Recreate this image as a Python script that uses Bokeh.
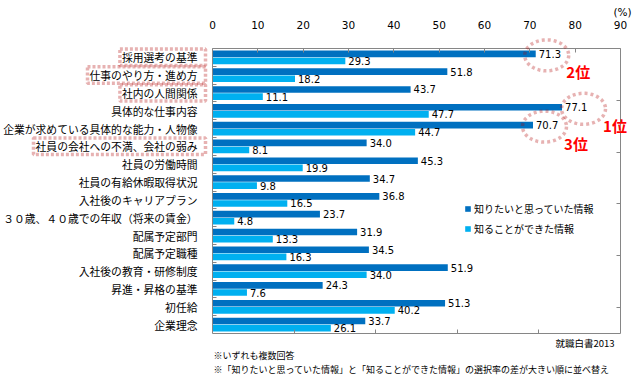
import numpy as np
from bokeh.plotting import figure
from bokeh.models import (Range1d, FixedTicker, LinearAxis, ColumnDataSource, Legend,
                          LegendItem, Label, PolyAnnotation)
from bokeh.transform import dodge
from bokeh.core.properties import value
from bokeh.embed import file_html
from bokeh.resources import INLINE

# ---------------- data ----------------
categories = [
    "採用選考の基準",
    "仕事のやり方・進め方",
    "社内の人間関係",
    "具体的な仕事内容",
    "企業が求めている具体的な能力・人物像",
    "社員の会社への不満、会社の弱み",
    "社員の労働時間",
    "社員の有給休暇取得状況",
    "入社後のキャリアプラン",
    "３０歳、４０歳での年収（将来の賃金）",
    "配属予定部門",
    "配属予定職種",
    "入社後の教育・研修制度",
    "昇進・昇格の基準",
    "初任給",
    "企業理念",
]
wanted = [71.3, 51.8, 43.7, 77.1, 70.7, 34.0, 45.3, 34.7, 36.8, 23.7, 31.9, 34.5, 51.9, 24.3, 51.3, 33.7]
known = [29.3, 18.2, 11.1, 47.7, 44.7, 8.1, 19.9, 9.8, 16.5, 4.8, 13.3, 16.3, 34.0, 7.6, 40.2, 26.1]
series_names = ["知りたいと思っていた情報", "知ることができた情報"]
x_ticks = [0, 10, 20, 30, 40, 50, 60, 70, 80, 90]
highlighted = ["採用選考の基準", "仕事のやり方・進め方", "社内の人間関係", "社員の会社への不満、会社の弱み"]
ranked = ["具体的な仕事内容", "採用選考の基準", "企業が求めている具体的な能力・人物像"]
rank_labels = ["1位", "2位", "3位"]
notes = ["※いずれも複数回答",
         "※「知りたいと思っていた情報」と「知ることができた情報」の選択率の差が大きい順に並べ替え"]
source_note = "就職白書2013"
unit_label = "(%)"

# ---------------- styles / layout ----------------
DARK = "#0070C0"
LIGHT = "#00B0F0"
RED_DOT = "#B00000"
GRID = "#868686"
JP = "Noto Sans CJK JP"
NUM = "DejaVu Sans"

W, H = 639, 383            # whole canvas is the frame
L, R, T, B = 212, 620, 48, 333   # chart box inside the canvas (px)
XMAX = 90
n = len(categories)
pxu = (R - L) / XMAX
pyu = (B - T) / n
SEC = 5.5
psu = (B - T) / SEC

pos = list(range(n))
src = ColumnDataSource(dict(
    pos=pos, wanted=wanted, known=known,
    wanted_txt=["%.1f" % v for v in wanted],
    known_txt=["%.1f" % v for v in known],
))

x_range = Range1d(-L / pxu, XMAX + (W - R) / pxu)
y_range = Range1d(n - 0.5 + (H - B) / pyu, -0.5 - T / pyu)

p = figure(frame_width=W, frame_height=H, x_range=x_range, y_range=y_range,
           x_axis_location=None, y_axis_location=None,
           output_backend="svg", toolbar_location=None,
           min_border=0, outline_line_color=None,
           background_fill_color="white", border_fill_color="white")
p.xgrid.visible = False
p.ygrid.visible = False
p.extra_y_ranges = {"sec": Range1d(SEC + (H - B) / psu, -T / psu)}

# top axis
top = LinearAxis(fixed_location=-0.5, bounds=(0, XMAX),
                 ticker=FixedTicker(ticks=x_ticks), axis_line_color=GRID,
                 major_tick_in=4, major_tick_out=0, major_tick_line_color=GRID,
                 minor_tick_line_color=None, major_label_standoff=20,
                 major_label_text_font=NUM, major_label_text_font_size="10.5px",
                 major_label_text_color="#000000")
p.add_layout(top, "above")

# bottom axis (ticks only)
bt = [18, 36, 54, 72]
bottom = LinearAxis(fixed_location=n - 0.5, bounds=(0, XMAX),
                    ticker=FixedTicker(ticks=bt), axis_line_color=GRID,
                    major_tick_in=4, major_tick_out=0, major_tick_line_color=GRID,
                    minor_tick_line_color=None,
                    major_label_overrides={t: "" for t in bt})
p.add_layout(bottom, "below")

# left axis with category names
left = LinearAxis(fixed_location=0, bounds=(-0.5, n - 0.5),
                  ticker=FixedTicker(ticks=pos, minor_ticks=[i + 0.5 for i in range(n - 1)]),
                  major_label_overrides={i: c for i, c in enumerate(categories)},
                  axis_line_color=GRID, major_tick_line_color=None,
                  minor_tick_in=4, minor_tick_out=0, minor_tick_line_color=GRID,
                  major_label_standoff=9, major_label_text_font=JP,
                  major_label_text_font_size="10.8px", major_label_text_color="#000000")
p.add_layout(left, "left")

# right axis (ticks only)
rt = [1, 2, 3, 4, 5]
right = LinearAxis(y_range_name="sec", fixed_location=XMAX, bounds=(0, SEC),
                   ticker=FixedTicker(ticks=rt), axis_line_color=GRID,
                   major_tick_in=4, major_tick_out=0,
                   major_tick_line_color=GRID, minor_tick_line_color=None,
                   major_label_overrides={t: "" for t in rt})
p.add_layout(right, "right")

# bars
bar_h = 0.375
r1 = p.hbar(y=dodge("pos", -0.2), left=0, right="wanted", height=bar_h, source=src,
            fill_color=DARK, line_color=None)
r2 = p.hbar(y=dodge("pos", 0.2), left=0, right="known", height=bar_h, source=src,
            fill_color=LIGHT, line_color=None)

# value labels
p.text(x="wanted", y=dodge("pos", -0.2), text="wanted_txt", source=src, x_offset=3,
       text_baseline="middle", text_align="left", text_font=value(NUM),
       text_font_size="10px", text_color="#000000")
p.text(x="known", y=dodge("pos", 0.2), text="known_txt", source=src, x_offset=3,
       text_baseline="middle", text_align="left", text_font=value(NUM),
       text_font_size="10px", text_color="#000000")

# legend
legend = Legend(items=[LegendItem(label=series_names[0], renderers=[r1]),
                       LegendItem(label=series_names[1], renderers=[r2])],
                location=(L + 252, (H - B) + 95), glyph_width=7, glyph_height=7,
                label_standoff=3, label_height=20, label_text_font=JP,
                label_text_font_size="10px", label_text_baseline="middle",
                label_text_color="#000000", padding=0, margin=0, spacing=0,
                border_line_color=None, background_fill_alpha=0)
p.add_layout(legend, "center")

# dotted boxes around highlighted category labels
for name in highlighted:
    i = categories.index(name)
    w = 10.8 * len(name)
    x0 = -(9 + w + 8) / pxu
    x1 = -7 / pxu
    y0 = i - 0.47
    y1 = i + 0.45
    p.add_layout(PolyAnnotation(xs=[x0, x1, x1, x0], ys=[y0, y0, y1, y1],
                                fill_alpha=0, line_color=RED_DOT, line_width=3.5,
                                line_dash="3 2", line_cap="butt"))

# dotted ellipses around top-3 values + rank labels
ell_dx = {"具体的な仕事内容": 21.5, "採用選考の基準": 11, "企業が求めている具体的な能力・人物像": 11.5}
t = np.linspace(0, 2 * np.pi, 60)
for name, rl in zip(ranked, rank_labels):
    i = categories.index(name)
    v = wanted[i]
    cx = v + ell_dx[name] / pxu
    cy = i - 0.2 + 1.5 / pyu
    xs = cx + 22 * np.cos(t) / pxu
    ys = cy + 15.5 * np.sin(t) / pyu
    p.add_layout(PolyAnnotation(xs=list(xs), ys=list(ys), fill_alpha=0,
                                line_color=RED_DOT, line_width=3.5, line_dash="3 3",
                                line_cap="butt"))
    p.add_layout(Label(x=cx, y=cy, x_offset=31.5, y_offset=-16.5, text=rl,
                       text_color="#FF0000", text_font=JP, text_font_style="bold",
                       text_font_size="15px", text_align="center", text_baseline="middle"))

# unit label
p.add_layout(Label(x=XMAX, y=-0.5, x_offset=2, y_offset=37, text=unit_label,
                   text_font=NUM, text_font_size="10.5px", text_color="#000000",
                   text_align="center", text_baseline="middle"))

# source and notes
p.add_layout(Label(x=XMAX, y=n - 0.5, x_offset=-6, y_offset=-9.5, text=source_note,
                   text_font=JP, text_font_size="9.5px", text_color="#000000",
                   text_align="right", text_baseline="middle"))
for k, note in enumerate(notes):
    p.add_layout(Label(x=0, y=n - 0.5, x_offset=1, y_offset=-22 - 14 * k, text=note,
                       text_font=JP, text_font_size="9px", text_color="#000000",
                       text_align="left", text_baseline="middle"))

open("out.html", "w").write(file_html(p, INLINE))
